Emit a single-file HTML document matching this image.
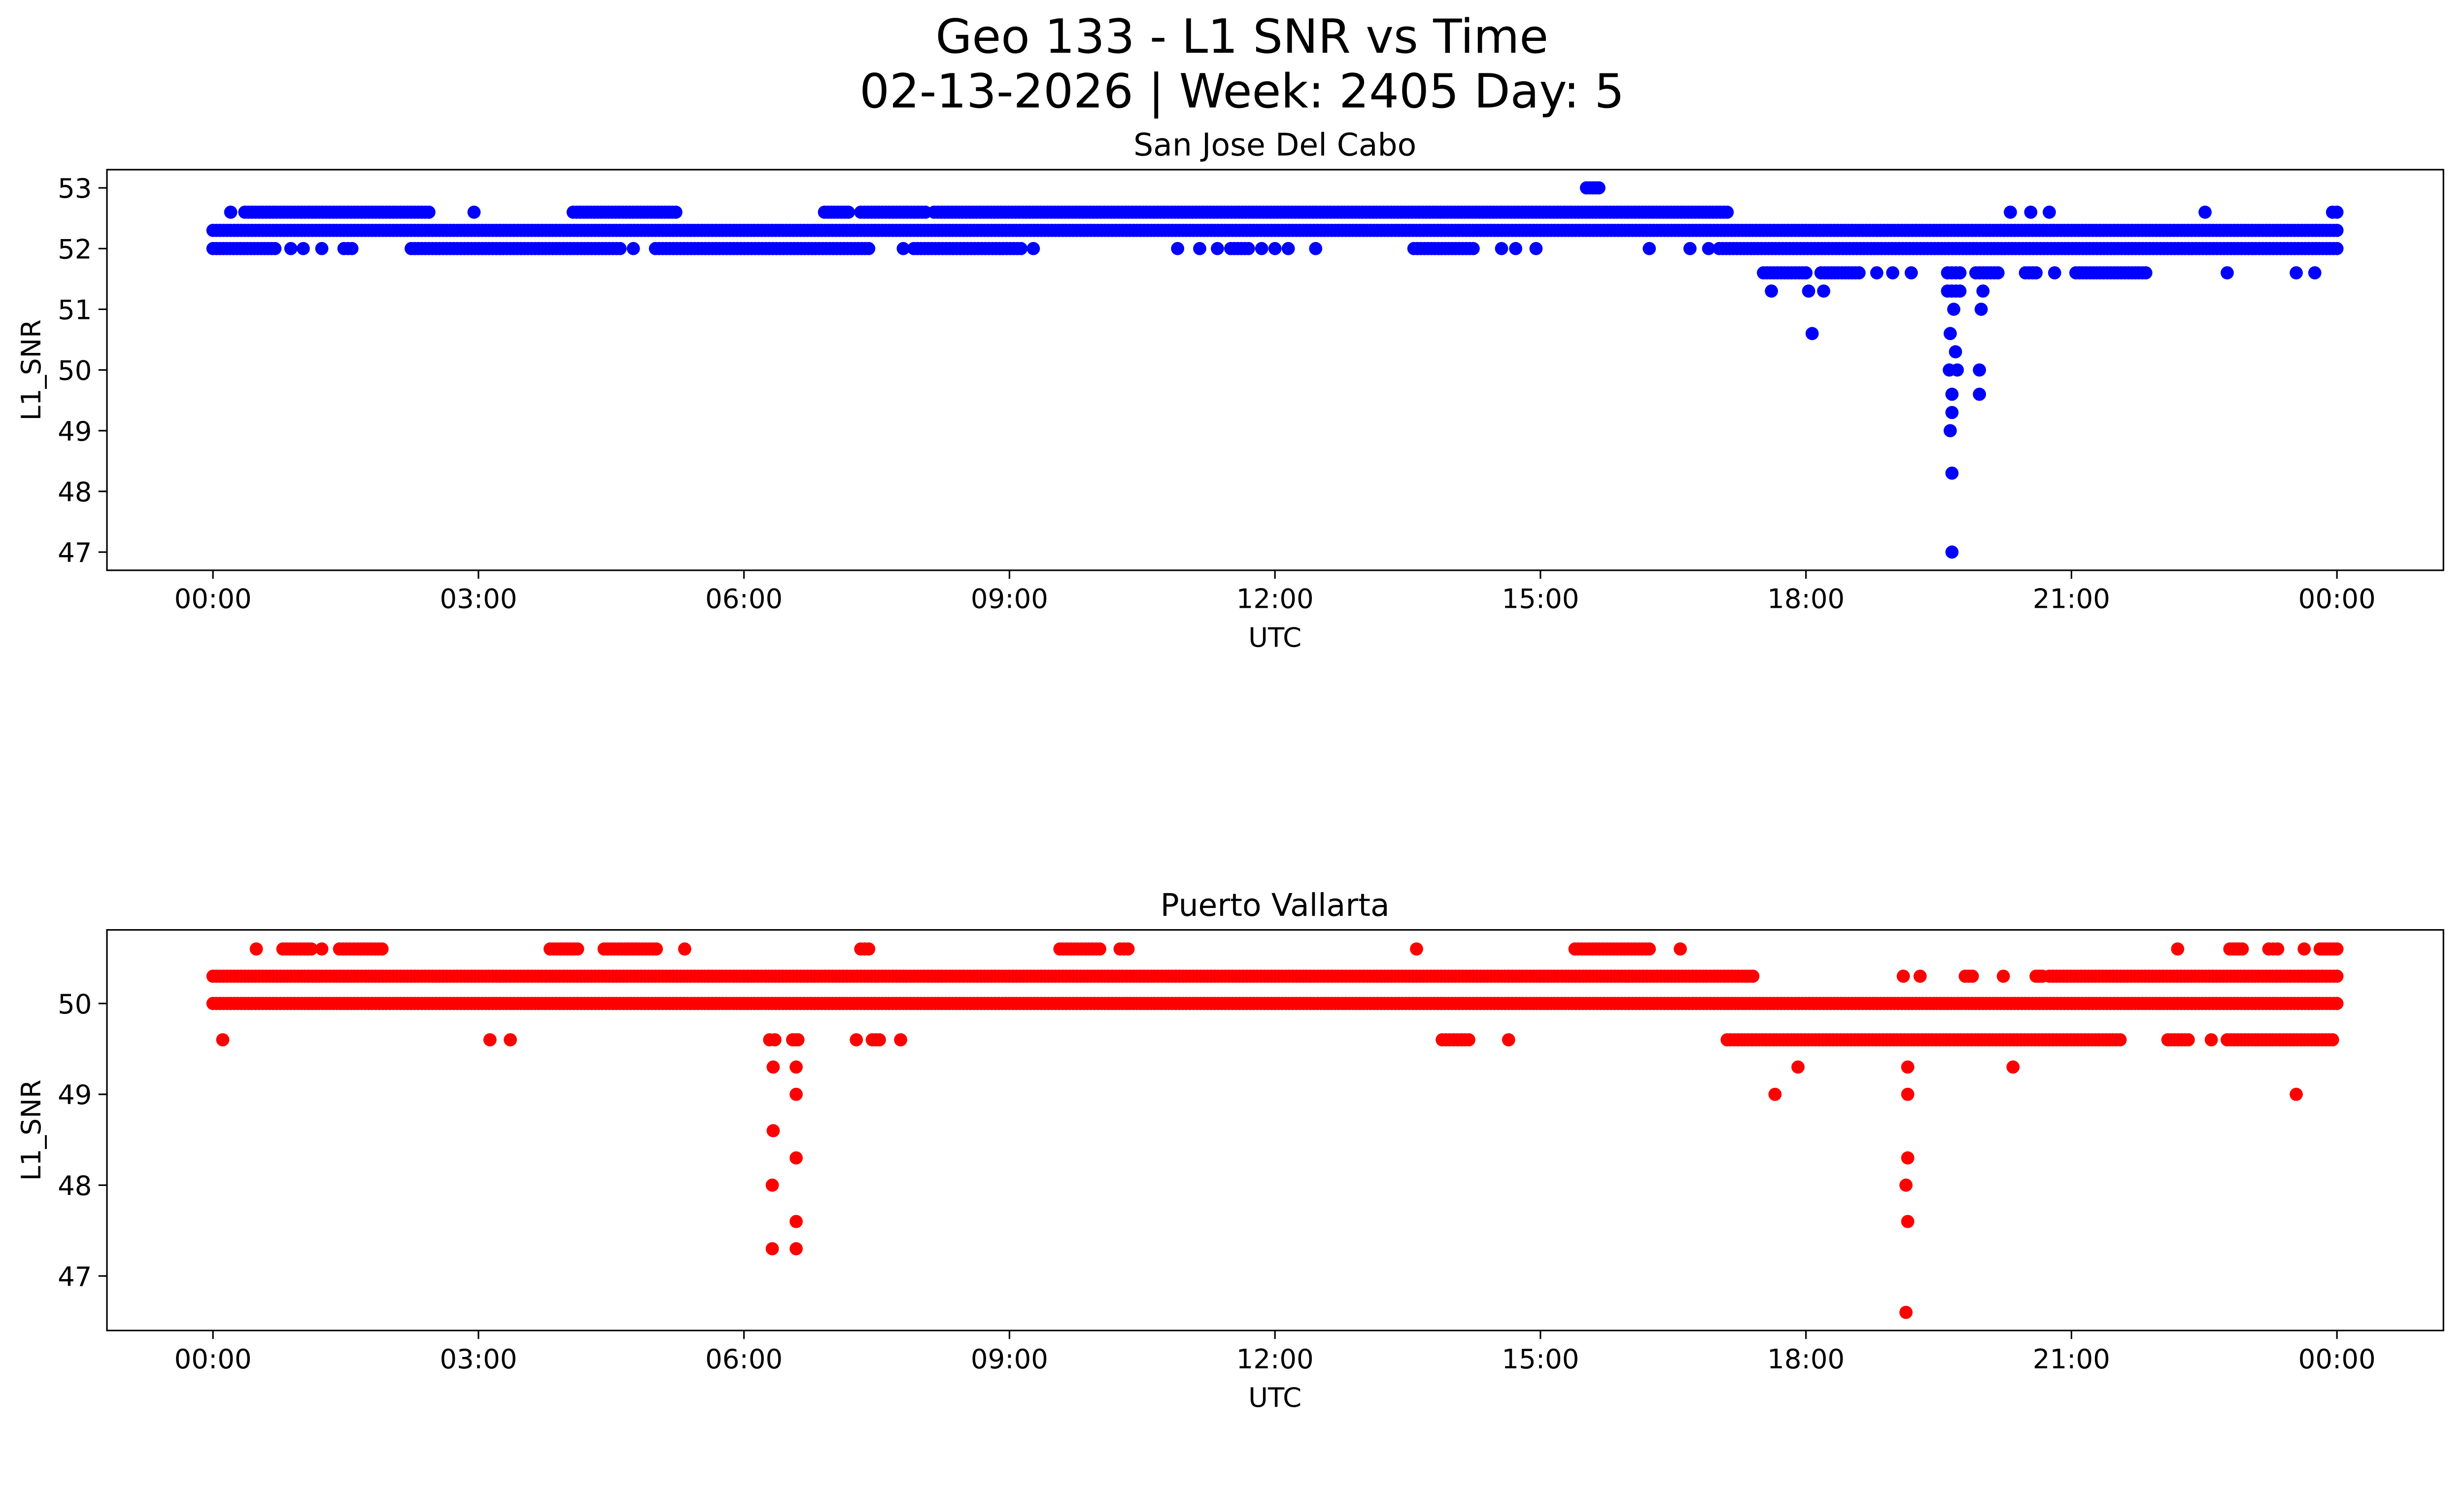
<!DOCTYPE html>
<html><head><meta charset="utf-8">
<style>
html,body{margin:0;padding:0;background:#fff;overflow:hidden;}
svg{display:block;font-family:"DejaVu Sans","Liberation Sans",sans-serif;}
</style></head>
<body>
<svg id="fig" width="5225" height="3033" viewBox="0 0 5465 3172" preserveAspectRatio="none" xmlns="http://www.w3.org/2000/svg">
<rect width="5465" height="3172" fill="#fff"/>
<text x="2636" y="112" font-size="100" text-anchor="middle">Geo 133 - L1 SNR vs Time</text>
<text x="2636" y="228" font-size="100" text-anchor="middle">02-13-2026 | Week: 2405 Day: 5</text>
<g id="top"></g>
<g id="bot"></g>
</svg>
<script>
// X tick labels (hours)
const xTickHours = [0,3,6,9,12,15,18,21,24];
const xTickLabels = ["00:00","03:00","06:00","09:00","12:00","15:00","18:00","21:00","00:00"];
// San Jose Del Cabo (blue) runs: start hour, end hour, SNR
const sjStart = [0, 0.2,0.36,2.95,4.07,6.91,7.32,8.15,20.31,20.54,20.75,22.51,23.95, 15.52,
 0,0.88,1.02,1.23,1.48,2.24,4.75,5.0,7.8,7.92,9.27,10.9,11.15,11.35,11.5,11.85,12.0,12.15,12.46,13.57,14.56,14.72,14.95,16.23,16.69,16.9,17.02,
 17.52,18.17,18.8,18.98,19.19,19.6,19.92,20.48,20.81,21.05,22.76,23.54,23.75,
 17.61,18.03,18.2,19.6,20.0, 19.67,19.98, 18.07,19.63, 19.69, 19.62,19.71,19.96, 19.65,19.96, 19.65, 19.63, 19.65, 19.65];
const sjEnd = [24, 0.2,2.44,2.95,5.23,7.18,8.05,17.11,20.31,20.54,20.75,22.51,24.0, 15.66,
 0.70,0.88,1.02,1.23,1.57,4.6,4.75,7.41,7.8,9.13,9.27,10.9,11.15,11.35,11.7,11.85,12.0,12.15,12.46,14.24,14.56,14.72,14.95,16.23,16.69,16.9,24.0,
 18.0,18.6,18.8,18.98,19.19,19.74,20.17,20.6,20.81,21.84,22.76,23.54,23.75,
 17.61,18.03,18.2,19.74,20.0, 19.67,19.98, 18.07,19.63, 19.69, 19.62,19.71,19.96, 19.65,19.96, 19.65, 19.63, 19.65, 19.65];
const sjValue = [52.3, 52.6,52.6,52.6,52.6,52.6,52.6,52.6,52.6,52.6,52.6,52.6,52.6, 53.0,
 52,52,52,52,52,52,52,52,52,52,52,52,52,52,52,52,52,52,52,52,52,52,52,52,52,52,52,
 51.6,51.6,51.6,51.6,51.6,51.6,51.6,51.6,51.6,51.6,51.6,51.6,51.6,
 51.3,51.3,51.3,51.3,51.3, 51.0,51.0, 50.6,50.6, 50.3, 50.0,50.0,50.0, 49.6,49.6, 49.3, 49.0, 48.3, 47.0];
// Puerto Vallarta (red) runs
const pvStart = [0,19.1,19.29,19.8,20.23,20.6,20.75, 0,
 0.49,0.79,1.23,1.43,3.81,4.42,5.33,7.32,9.57,10.25,13.6,15.39,16.58,22.2,22.79,23.23,23.63,23.81,
 0.11,3.13,3.36,6.29,6.55,7.27,7.45,7.77,13.89,14.64,17.11,22.09,22.58,22.76,
 6.33,6.59,17.91,19.15,20.34, 6.59,17.65,19.15,23.54, 6.33, 6.59,19.15, 6.32,19.13, 6.59,19.15, 6.32,6.59, 19.13];
const pvEnd = [17.4,19.1,19.29,19.88,20.23,20.67,24.0, 24.0,
 0.49,1.11,1.23,1.91,4.12,5.01,5.33,7.41,10.02,10.34,13.6,16.23,16.58,22.2,22.93,23.33,23.63,24.0,
 0.11,3.13,3.36,6.35,6.61,7.27,7.53,7.77,14.19,14.64,21.55,22.32,22.58,23.95,
 6.33,6.59,17.91,19.15,20.34, 6.59,17.65,19.15,23.54, 6.33, 6.59,19.15, 6.32,19.13, 6.59,19.15, 6.32,6.59, 19.13];
const pvValue = [50.3,50.3,50.3,50.3,50.3,50.3,50.3, 50.0,
 50.6,50.6,50.6,50.6,50.6,50.6,50.6,50.6,50.6,50.6,50.6,50.6,50.6,50.6,50.6,50.6,50.6,50.6,
 49.6,49.6,49.6,49.6,49.6,49.6,49.6,49.6,49.6,49.6,49.6,49.6,49.6,49.6,
 49.3,49.3,49.3,49.3,49.3, 49.0,49.0,49.0,49.0, 48.6, 48.3,48.3, 48.0,48.0, 47.6,47.6, 47.3,47.3, 46.6];
const sjTicks = [47,48,49,50,51,52,53];
const pvTicks = [47,48,49,50];

const NS = "http://www.w3.org/2000/svg";
function mk(parent, tag, attrs){const e=document.createElementNS(NS,tag);for(const k in attrs)e.setAttribute(k,attrs[k]);parent.appendChild(e);return e;}

function panel(g, cfg){
  const L=227,R=5186,T=cfg.top,B=cfg.bottom;
  const xs = h => 452 + h*(4960-452)/24;
  const ys = v => B - (v-cfg.ymin)/(cfg.ymax-cfg.ymin)*(B-T);
  const pts = mk(g,'g',{});
  
  
  for(let i=0;i<cfg.start.length;i++){
    const s=cfg.start[i], e=cfg.end[i], v=cfg.value[i];
    const n=Math.max(1,Math.round((e-s)/0.04));
    for(let k=0;k<=n;k++){
      const h = (e===s)? s : s+(e-s)*k/n;
      const c=mk(pts,'circle',{cx:xs(h).toFixed(1),cy:ys(v).toFixed(1),r:14,fill:cfg.color});
      
      
      if(e===s) break;
    }
  }
  const fr=mk(g,'rect',{x:L,y:T,width:R-L,height:B-T,fill:'none',stroke:'#000','stroke-width':3.3});
  
  
  for(let i=0;i<xTickHours.length;i++){
    const x=xs(xTickHours[i]);
    mk(g,'line',{x1:x,x2:x,y1:B,y2:B+18,stroke:'#000','stroke-width':3.3});
    const t=mk(g,'text',{x:x,y:B+80,'font-size':57,'text-anchor':'middle'});
    
    
    t.textContent=xTickLabels[i];
  }
  for(const v of cfg.ticks){
    const y=ys(v);
    mk(g,'line',{x1:L-18,x2:L,y1:y,y2:y,stroke:'#000','stroke-width':3.3});
    const t=mk(g,'text',{x:L-32,y:y+21,'font-size':57,'text-anchor':'end'});
    
    
    t.textContent=v;
  }
  const xl=mk(g,'text',{x:2706,y:B+162,'font-size':57,'text-anchor':'middle'});
  
  
  xl.textContent='UTC';
  const yc=(T+B)/2;
  const yl=mk(g,'text',{x:0,y:0,'font-size':57,'text-anchor':'middle',transform:`translate(86,${yc}) rotate(-90)`});
  
  
  yl.textContent='L1_SNR';
  const tt=mk(g,'text',{x:2706,y:T-30,'font-size':66,'text-anchor':'middle'});
  
  
  tt.textContent=cfg.title;
}
panel(document.getElementById('top'),{top:360,bottom:1210,ymin:46.7,ymax:53.3,start:sjStart,end:sjEnd,value:sjValue,ticks:sjTicks,color:'#0000ff',title:'San Jose Del Cabo',seriesName:'san-jose-series'});
panel(document.getElementById('bot'),{top:1973,bottom:2823,ymin:46.40,ymax:50.81,start:pvStart,end:pvEnd,value:pvValue,ticks:pvTicks,color:'#ff0000',title:'Puerto Vallarta',seriesName:'puerto-vallarta-series'});
</script>
</body></html>
